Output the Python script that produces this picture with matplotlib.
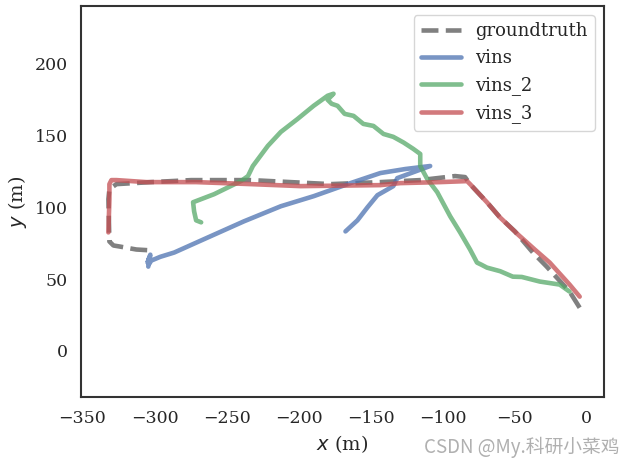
import matplotlib
matplotlib.use('Agg')
import matplotlib.pyplot as plt
import seaborn as sns

# trajectories (x, y in m)
gt_x = [-4.8, -11.8, -27.7, -37.3, -49.8, -60.2, -69.2, -80.9, -84.4, -91.3, -115.5, -143.2,
        -177.7, -233.1, -274.5, -302.2, -326.4, -331.3, -332.0, -331.3, -328.5, -324.3, -312.6, -300.8]
gt_y = [30.1, 41.3, 58.7, 68.5, 83.2, 93.0, 103.5, 116.1, 121.0, 121.7, 118.9, 117.5,
        116.1, 118.9, 118.9, 117.5, 116.1, 112.6, 105.6, 76.2, 73.4, 72.7, 70.6, 69.9]

vins_x = [-304.3, -303.6, -304.8, -302.9, -303.8, -302.2, -296.0, -286.3, -267.6, -237.9, -212.3,
          -189.5, -163.9, -143.2, -125.9, -108.6, -131.4, -134.2, -145.2, -152.1, -159.1, -167.4]
vins_y = [58.7, 65.0, 61.5, 67.0, 60.5, 62.9, 65.5, 68.5, 76.9, 90.2, 100.7,
          107.7, 116.8, 123.8, 126.6, 128.7, 120.3, 114.7, 108.4, 100.0, 90.9, 83.2]

vins2_x = [-267.6, -271.1, -272.5, -273.2, -258.6, -240.0, -235.1, -231.7, -221.3, -212.3, -200.6,
           -189.5, -179.8, -175.7, -179.8, -177.0, -172.9, -168.0, -161.8, -155.0, -148.0, -141.0,
           -134.2, -127.0, -120.3, -115.5, -115.5, -110.6, -103.7, -94.7, -87.8, -80.9, -76.1,
           -73.0, -69.2, -60.0, -51.2, -45.0, -32.5, -18.7, -11.8]
vins2_y = [89.5, 90.9, 97.2, 103.5, 109.1, 118.2, 121.7, 128.7, 142.7, 152.4, 161.5,
           170.6, 177.6, 179.0, 174.8, 172.0, 170.6, 165.0, 163.6, 158.0, 156.6, 151.0,
           149.0, 145.0, 140.6, 137.1, 128.7, 119.6, 110.5, 93.7, 82.5, 70.6, 61.5,
           60.0, 58.0, 55.5, 51.7, 51.5, 48.3, 46.2, 41.3]

vins3_x = [-4.8, -11.8, -25.6, -36.0, -47.7, -60.2, -69.2, -80.9, -83.0, -101.7, -129.3, -143.2,
           -198.5, -233.1, -271.1, -305.7, -326.4, -329.9, -331.3, -331.3, -332.0]
vins3_y = [37.8, 46.2, 61.5, 70.6, 81.1, 93.0, 103.5, 116.1, 118.2, 117.5, 116.8, 115.4,
           114.7, 116.1, 117.5, 117.5, 118.9, 118.9, 116.1, 105.6, 82.5]

sns.set_theme(style='white', font='serif', font_scale=1.0)
plt.rcParams['font.family'] = ['DejaVu Serif']
plt.rcParams['mathtext.fontset'] = 'dejavusans'

pal = sns.color_palette('deep')

fig = plt.figure(figsize=(6.33, 4.67), dpi=100)
ax = fig.add_axes([0.128, 0.150, 0.826, 0.837])

ax.plot(gt_x, gt_y, '--', color='gray', lw=3.3, label='groundtruth')
ax.plot(vins_x, vins_y, '-', color=pal[0], lw=3.3, alpha=0.75, label='vins')
ax.plot(vins2_x, vins2_y, '-', color=pal[2], lw=3.3, alpha=0.75, label='vins_2')
ax.plot(vins3_x, vins3_y, '-', color=pal[3], lw=3.3, alpha=0.75, label='vins_3')

ax.set_xlim(-351, 12)
ax.set_ylim(-32, 240)
ax.set_xticks([-350, -300, -250, -200, -150, -100, -50, 0])
ax.set_yticks([0, 50, 100, 150, 200])
ax.tick_params(labelsize=12.5, colors='.15')
for s in ax.spines.values():
    s.set_color('.2')
    s.set_linewidth(1.5)
ax.set_xlabel('$x$ (m)', fontsize=14)
ax.set_ylabel('$y$ (m)', fontsize=14)
ax.legend(loc='upper right', fontsize=13, frameon=True, handlelength=2.2)

fig.text(0.978, 0.02, 'CSDN @My.科研小菜鸡', ha='right', va='bottom', fontsize=13.5,
         color='#b0b0b0', family=['Noto Sans CJK SC', 'DejaVu Sans'])

fig.savefig('out.png', dpi=100)
